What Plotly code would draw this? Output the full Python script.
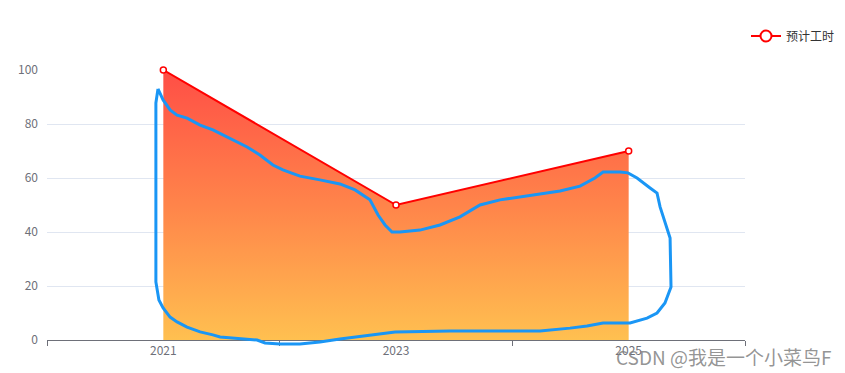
import plotly.graph_objects as go

# ---- data ----
categories = ["2021", "2023", "2025"]
hours = [100, 50, 70]
series_name = "预计工时"
y_ticks = [0, 20, 40, 60, 80, 100]

# freehand blue annotation loop (in data units: x = category slot, y = value)
loop_x = [0.477, 0.499, 0.529, 0.559, 0.602, 0.658, 0.713, 0.799, 0.860, 0.915, 0.971, 1.014,
          1.057, 1.087, 1.173, 1.259, 1.324, 1.388, 1.423, 1.453, 1.483, 1.517, 1.603, 1.689,
          1.775, 1.861, 1.947, 2.033, 2.119, 2.205, 2.291, 2.355, 2.390, 2.463, 2.497, 2.536,
          2.592, 2.622, 2.635, 2.678, 2.682, 2.669, 2.656, 2.622, 2.579, 2.506, 2.390, 2.321,
          2.248, 2.119, 1.732, 1.496, 1.388, 1.259, 1.173, 1.087, 1.001, 0.937, 0.903, 0.799,
          0.744, 0.713, 0.658, 0.602, 0.559, 0.529, 0.499, 0.481, 0.473, 0.468, 0.468, 0.473, 0.477]
loop_y = [93.0, 88.9, 85.2, 83.3, 82.2, 79.6, 77.8, 74.1, 71.5, 68.5, 64.8, 63.0,
          61.5, 60.7, 59.3, 57.8, 55.6, 51.9, 46.3, 42.6, 40.0, 40.0, 40.7, 42.6,
          45.6, 50.0, 51.9, 53.0, 54.1, 55.2, 57.0, 60.0, 62.2, 62.2, 61.9, 60.0,
          56.3, 54.4, 49.3, 37.8, 19.6, 16.7, 13.7, 10.0, 8.1, 6.3, 6.3, 5.2,
          4.4, 3.3, 3.3, 3.0, 1.9, 0.4, -0.7, -1.5, -1.5, -1.1, 0.0, 0.7,
          1.1, 1.9, 3.0, 4.8, 6.7, 8.5, 11.9, 14.8, 18.5, 21.5, 87.8, 91.5, 93.0]

# ---- layout geometry (window pixels) ----
W, H = 845, 373
OFF = 8                               # page body margin offset
PL, PR, PT, PB = 47, 745, 70, 340     # plot area edges in the window
EXTRA = 20                            # px below the plot for the annotation axes

def px_x(p):
    return (p - OFF) / W

def px_y(p):
    return (H - (p - OFF)) / H

y2_min = -100 * EXTRA / (PB - PT)

xpos = [i + 0.5 for i in range(len(categories))]
FONT = "Noto Sans CJK SC, Noto Sans, sans-serif"
AX = "#6e7079"

fig = go.Figure()
fig.add_trace(go.Scatter(
    x=xpos, y=hours, name=series_name, mode="lines+markers", showlegend=False,
    line=dict(color="#ff0000", width=2),
    marker=dict(symbol="circle", size=6, color="white", line=dict(color="#ff0000", width=1.5)),
    fill="tozeroy",
    fillgradient=dict(type="vertical",
                      colorscale=[[0, "rgb(255,192,80)"], [0.5, "rgb(255,132,74)"], [1, "rgb(255,78,70)"]]),
    cliponaxis=False,
))
# legend entry (line with hollow circle, as in the original)
fig.add_trace(go.Scatter(
    x=[None], y=[None], name=series_name, mode="lines+markers",
    line=dict(color="#ff0000", width=2),
    marker=dict(symbol="circle", size=11, color="white", line=dict(color="#ff0000", width=2)),
))
fig.add_trace(go.Scatter(
    x=loop_x, y=loop_y, xaxis="x2", yaxis="y2", mode="lines",
    line=dict(color="#1a96f5", width=3), showlegend=False, hoverinfo="skip",
))

fig.update_layout(
    width=W, height=H,
    margin=dict(l=0, r=0, t=0, b=0, autoexpand=False),
    paper_bgcolor="white", plot_bgcolor="rgba(0,0,0,0)",
    font=dict(family=FONT, size=12, color=AX),
    xaxis=dict(range=[0, len(categories)], domain=[px_x(PL), px_x(PR)], anchor="y",
               automargin=False,
               tickvals=xpos, ticktext=categories, ticks="",
               showgrid=False, zeroline=False, showline=True, linecolor=AX, linewidth=1,
               minor=dict(tick0=0, dtick=1, ticks="outside", ticklen=5, tickcolor=AX, showgrid=False),
               tickfont=dict(color=AX, size=12)),
    yaxis=dict(range=[0, 100], domain=[px_y(PB), px_y(PT)], anchor="x",
               automargin=False,
               tickvals=y_ticks, showgrid=True, gridcolor="#e0e6f1", gridwidth=1,
               zeroline=False, showline=False, ticks="", ticklabelstandoff=8,
               tickfont=dict(color=AX, size=12)),
    xaxis2=dict(range=[0, len(categories)], domain=[px_x(PL), px_x(PR)], anchor="y2",
                visible=False, automargin=False),
    yaxis2=dict(range=[y2_min, 100], domain=[px_y(PB + EXTRA), px_y(PT)], anchor="x2",
                visible=False, automargin=False),
    legend=dict(x=px_x(746), y=px_y(36), xanchor="left", yanchor="middle",
                font=dict(color="#333", size=12), bgcolor="rgba(0,0,0,0)",
                itemwidth=30),
    showlegend=True,
)

fig.add_annotation(text="CSDN @我是一个小菜鸟F", xref="paper", yref="paper",
                   x=px_x(833), y=px_y(356), xanchor="right", yanchor="middle", showarrow=False,
                   font=dict(family=FONT, size=19, color="rgba(130,130,130,0.85)"))

fig.write_html("out.html")
